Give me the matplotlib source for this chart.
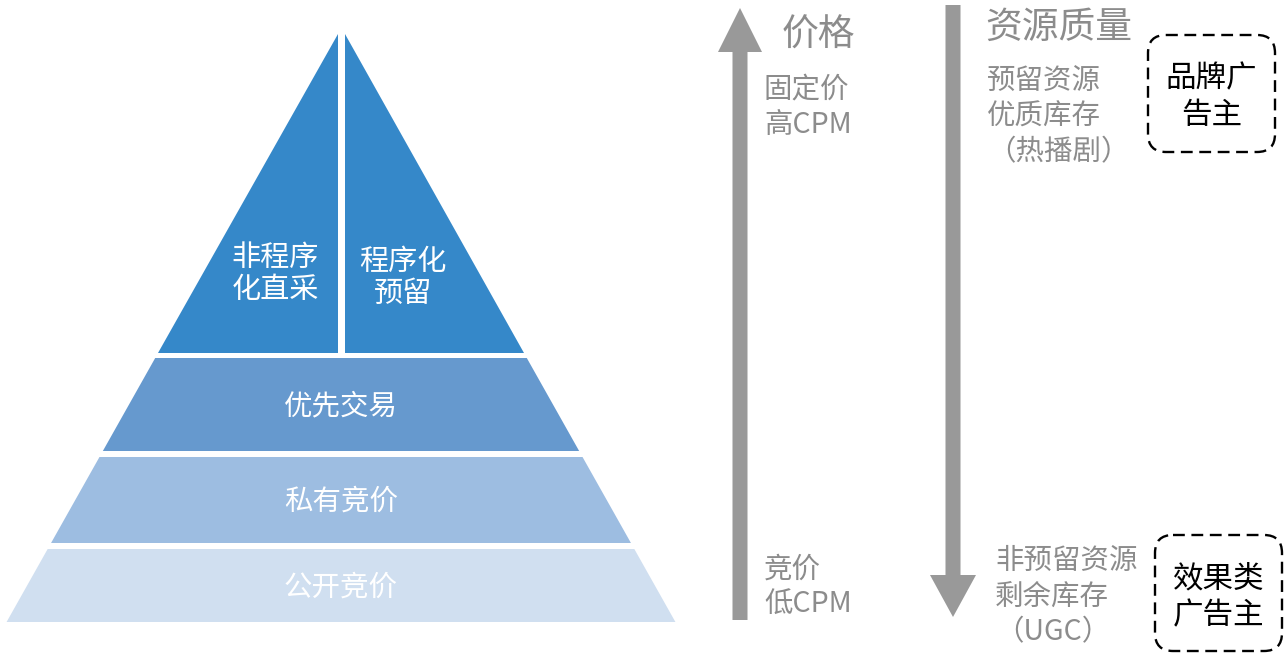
import matplotlib
matplotlib.use("Agg")
import matplotlib.pyplot as plt
from matplotlib.patches import Polygon, FancyArrow, FancyBboxPatch

plt.rcParams['font.family'] = ['Noto Sans CJK SC', 'DejaVu Sans']

# pyramid tiers, top to bottom
tier_labels = ["优先交易", "私有竞价", "公开竞价"]
tier_colors = ["#6699CE", "#9DBDE1", "#D0DFF0"]
top_labels = ["非程序\n化直采", "程序化\n预留"]
top_color = "#3588C9"

# side annotations
price_title = "价格"
price_high = "固定价\n高CPM"
price_low = "竞价\n低CPM"
quality_title = "资源质量"
quality_high = "预留资源\n优质库存\n（热播剧）"
quality_low = "非预留资源\n剩余库存\n（UGC）"
advertisers = ["品牌广\n告主", "效果类\n广告主"]

W, H = 1287, 654
fig = plt.figure(figsize=(W / 100, H / 100), dpi=100)
ax = fig.add_axes([0, 0, 1, 1])
ax.set_xlim(0, W)
ax.set_ylim(H, 0)
ax.axis("off")

# pyramid geometry
cx, apex, slope = 341, 28, 0.563
def hw(y):
    return (y - apex) * slope

top_bottom = 353
gap = 3.5
bands = [(358, 451), (457, 543), (549, 622)]

# top triangle, split in two by a white gap
yl = apex + gap / slope
ax.add_patch(Polygon([(cx - gap, yl), (cx - gap, top_bottom), (cx - hw(top_bottom), top_bottom)],
                     closed=True, color=top_color, lw=0))
ax.add_patch(Polygon([(cx + gap, yl), (cx + gap, top_bottom), (cx + hw(top_bottom), top_bottom)],
                     closed=True, color=top_color, lw=0))
ax.text(275, 274, top_labels[0], color="white", fontsize=21, ha="center", va="center", linespacing=1.05)
ax.text(403, 278, top_labels[1], color="white", fontsize=21, ha="center", va="center", linespacing=1.05)

for (y0, y1), lab, col in zip(bands, tier_labels, tier_colors):
    pts = [(cx - hw(y0), y0), (cx + hw(y0), y0), (cx + hw(y1), y1), (cx - hw(y1), y1)]
    ax.add_patch(Polygon(pts, closed=True, color=col, lw=0))
    ax.text(cx, (y0 + y1) / 2 + 2, lab, color="white", fontsize=20.5, ha="center", va="center")

# arrows
grey = "#999999"
ax.add_patch(FancyArrow(740, 620, 0, -612, width=15, head_width=44, head_length=44,
                        length_includes_head=True, color=grey, lw=0))
ax.add_patch(FancyArrow(953, 5, 0, 612, width=15, head_width=46, head_length=42,
                        length_includes_head=True, color=grey, lw=0))

txt = "#8C8C8C"
ax.text(782, 35, price_title, color=txt, fontsize=26.5, ha="left", va="center")
ax.text(764, 107, price_high, color=txt, fontsize=20.5, ha="left", va="center", linespacing=1.25)
ax.text(764, 587, price_low, color=txt, fontsize=20.5, ha="left", va="center", linespacing=1.25)
ax.text(985, 27, quality_title, color=txt, fontsize=26.5, ha="left", va="center")
ax.text(987, 117, quality_high, color=txt, fontsize=20.5, ha="left", va="center", linespacing=1.25)
ax.text(995, 597, quality_low, color=txt, fontsize=20.5, ha="left", va="center", linespacing=1.25)

# dashed advertiser boxes
boxes = [(1148, 35, 127, 117), (1155, 535, 127, 116)]
for (x, y, w, h), lab in zip(boxes, advertisers):
    ax.add_patch(FancyBboxPatch((x, y), w, h, boxstyle="round,pad=0,rounding_size=18",
                                fill=False, ec="black", lw=1.7, ls=(0, (5, 2.8))))
    ax.text(x + w / 2, y + h / 2 + 4, lab, color="black", fontsize=22, ha="center", va="center",
            linespacing=1.25)

fig.savefig("out.png", dpi=100)
